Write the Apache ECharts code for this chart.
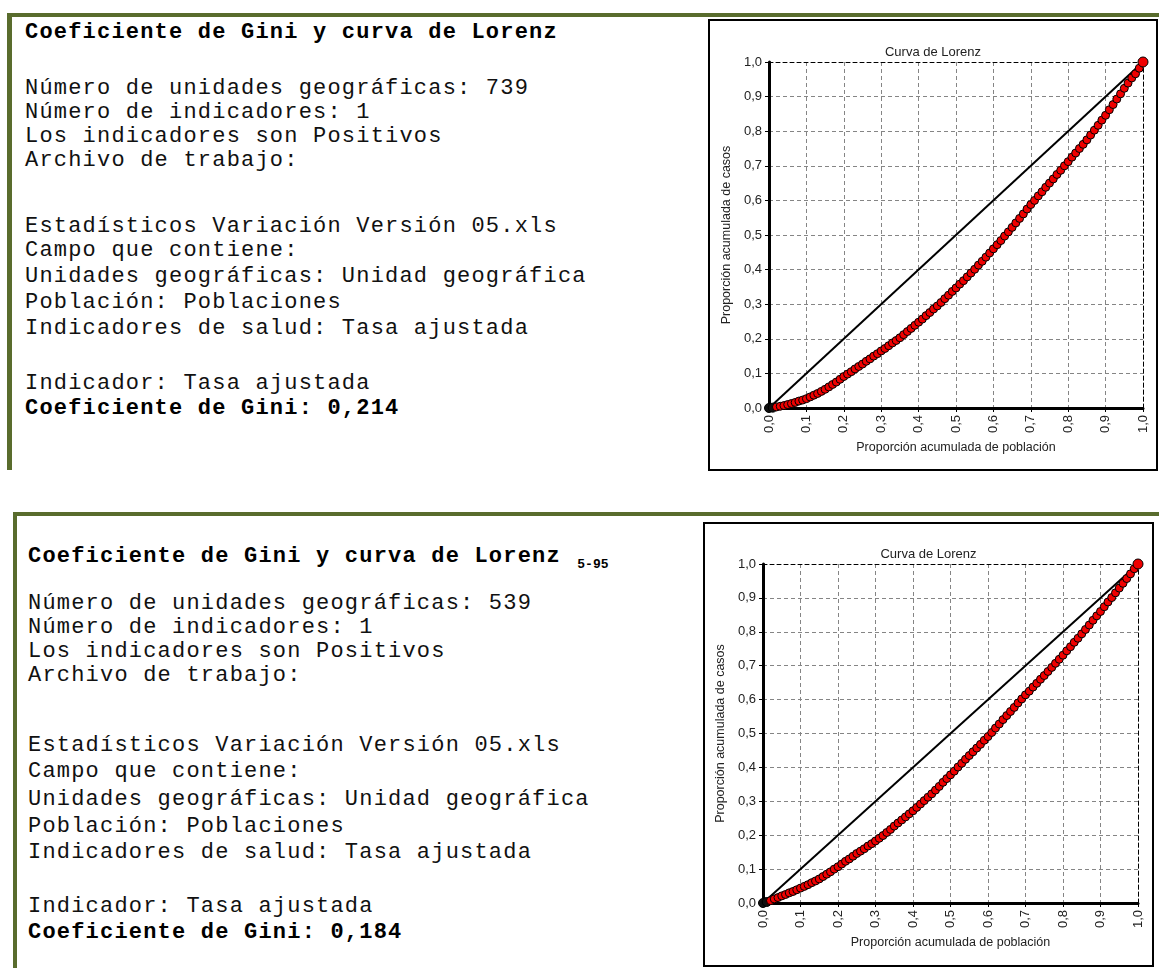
<!DOCTYPE html>
<html>
<head>
<meta charset="utf-8">
<script src="https://cdn.jsdelivr.net/npm/echarts@6/dist/echarts.min.js"></script>
<style>
  html, body { margin: 0; padding: 0; background: #fff; }
  body { width: 1159px; height: 968px; position: relative; overflow: hidden; }
  .bar { position: absolute; background: #596c2d; }
  .txt { position: absolute; font-family: 'Liberation Mono', 'Courier New', monospace; font-size: 22px;
         letter-spacing: 1.2px; line-height: 24px; color: #111; white-space: pre; }
  .b { font-weight: bold; color: #000; }
  .sub { font-size: 13px; letter-spacing: 0; position: relative; top: 6px; margin-left: 2px; }
  .box { position: absolute; border: 2px solid #000; box-sizing: border-box; }
  .chart { position: absolute; }
</style>
</head>
<body>
<script>
// Cumulative share of population (x) sampled along the Lorenz curve
const populationShare = [
  0.00,0.01,0.02,0.03,0.04,0.05,0.06,0.07,0.08,0.09,
  0.10,0.11,0.12,0.13,0.14,0.15,0.16,0.17,0.18,0.19,
  0.20,0.21,0.22,0.23,0.24,0.25,0.26,0.27,0.28,0.29,
  0.30,0.31,0.32,0.33,0.34,0.35,0.36,0.37,0.38,0.39,
  0.40,0.41,0.42,0.43,0.44,0.45,0.46,0.47,0.48,0.49,
  0.50,0.51,0.52,0.53,0.54,0.55,0.56,0.57,0.58,0.59,
  0.60,0.61,0.62,0.63,0.64,0.65,0.66,0.67,0.68,0.69,
  0.70,0.71,0.72,0.73,0.74,0.75,0.76,0.77,0.78,0.79,
  0.80,0.81,0.82,0.83,0.84,0.85,0.86,0.87,0.88,0.89,
  0.90,0.91,0.92,0.93,0.94,0.95,0.96,0.97,0.98,0.99,
  1.00
];

// Cumulative share of cases, all 739 geographic units (Gini 0,214)
const casesShareAll = [
  0.000,0.001,0.003,0.005,0.007,0.010,0.013,0.016,0.020,0.023,
  0.027,0.032,0.037,0.042,0.048,0.054,0.061,0.068,0.075,0.083,
  0.091,0.098,0.105,0.113,0.120,0.127,0.135,0.142,0.150,0.157,
  0.165,0.172,0.180,0.188,0.195,0.203,0.212,0.221,0.230,0.239,
  0.248,0.257,0.267,0.276,0.286,0.295,0.305,0.316,0.326,0.337,
  0.347,0.358,0.368,0.379,0.390,0.401,0.413,0.424,0.436,0.448,
  0.460,0.472,0.484,0.497,0.509,0.522,0.535,0.548,0.561,0.575,
  0.588,0.600,0.613,0.625,0.638,0.650,0.662,0.675,0.687,0.700,
  0.712,0.725,0.737,0.750,0.762,0.775,0.789,0.803,0.817,0.832,
  0.846,0.862,0.877,0.893,0.908,0.924,0.939,0.954,0.966,0.982,
  1.000
];

// Cumulative share of cases, 539 units between percentiles 5 and 95 (Gini 0,184)
const casesShareTrimmed = [
  0.000,0.003,0.007,0.012,0.016,0.021,0.025,0.030,0.034,0.039,
  0.044,0.049,0.054,0.060,0.065,0.071,0.078,0.085,0.092,0.100,
  0.107,0.115,0.123,0.130,0.138,0.146,0.153,0.160,0.168,0.175,
  0.183,0.191,0.199,0.208,0.217,0.227,0.236,0.245,0.254,0.263,
  0.272,0.282,0.292,0.302,0.312,0.322,0.333,0.344,0.356,0.367,
  0.378,0.389,0.401,0.412,0.424,0.435,0.446,0.457,0.468,0.480,
  0.491,0.503,0.516,0.528,0.541,0.553,0.565,0.577,0.590,0.602,
  0.614,0.625,0.637,0.648,0.660,0.671,0.683,0.695,0.707,0.719,
  0.731,0.744,0.756,0.769,0.781,0.794,0.807,0.820,0.834,0.847,
  0.860,0.874,0.888,0.901,0.915,0.929,0.943,0.957,0.971,0.986,
  1.000
];

// Line of perfect equality
const equalityLine = [[0, 0], [1, 1]];

// Axis tick labels (decimal comma)
const tickLabels = ['0,0','0,1','0,2','0,3','0,4','0,5','0,6','0,7','0,8','0,9','1,0'];
</script>

<!-- upper report panel -->
<div class="bar" style="left:7px; top:13px; width:1152px; height:4px;"></div>
<div class="bar" style="left:7px; top:13px; width:5px; height:457px;"></div>
<div class="txt b" style="left:25px; top:21px;">Coeficiente de Gini y curva de Lorenz</div>
<div class="txt" style="left:25px; top:77px;">Número de unidades geográficas: 739</div>
<div class="txt" style="left:25px; top:101px;">Número de indicadores: 1</div>
<div class="txt" style="left:25px; top:125px;">Los indicadores son Positivos</div>
<div class="txt" style="left:25px; top:149px;">Archivo de trabajo:</div>
<div class="txt" style="left:25px; top:215px;">Estadísticos Variación Versión 05.xls</div>
<div class="txt" style="left:25px; top:239px;">Campo que contiene:</div>
<div class="txt" style="left:25px; top:265px;">Unidades geográficas: Unidad geográfica</div>
<div class="txt" style="left:25px; top:291px;">Población: Poblaciones</div>
<div class="txt" style="left:25px; top:317px;">Indicadores de salud: Tasa ajustada</div>
<div class="txt" style="left:25px; top:372px;">Indicador: Tasa ajustada</div>
<div class="txt b" style="left:25px; top:397px;">Coeficiente de Gini: 0,214</div>
<div class="box" style="left:708px; top:19px; width:450px; height:452px;"></div>
<div id="chartAll" class="chart" style="left:710px; top:21px; width:446px; height:448px;"></div>

<!-- lower report panel -->
<div class="bar" style="left:13px; top:512px; width:1146px; height:4px;"></div>
<div class="bar" style="left:13px; top:512px; width:4px; height:456px;"></div>
<div class="txt b" style="left:28px; top:545px;">Coeficiente de Gini y curva de Lorenz <span class="sub">5-95</span></div>
<div class="txt" style="left:28px; top:592px;">Número de unidades geográficas: 539</div>
<div class="txt" style="left:28px; top:616px;">Número de indicadores: 1</div>
<div class="txt" style="left:28px; top:640px;">Los indicadores son Positivos</div>
<div class="txt" style="left:28px; top:664px;">Archivo de trabajo:</div>
<div class="txt" style="left:28px; top:734px;">Estadísticos Variación Versión 05.xls</div>
<div class="txt" style="left:28px; top:760px;">Campo que contiene:</div>
<div class="txt" style="left:28px; top:788px;">Unidades geográficas: Unidad geográfica</div>
<div class="txt" style="left:28px; top:815px;">Población: Poblaciones</div>
<div class="txt" style="left:28px; top:841px;">Indicadores de salud: Tasa ajustada</div>
<div class="txt" style="left:28px; top:895px;">Indicador: Tasa ajustada</div>
<div class="txt b" style="left:28px; top:921px;">Coeficiente de Gini: 0,184</div>
<div class="box" style="left:703px; top:522px; width:451px; height:445px;"></div>
<div id="chartTrimmed" class="chart" style="left:705px; top:524px; width:447px; height:441px;"></div>

<script>
const uiFont = "'Liberation Sans', Arial, sans-serif";
const labelColor = '#222';
const tickText = v => tickLabels[Math.round(v * 10)];
const gridDash = { color: '#858585', width: 1, type: [4, 3] };

function lorenzOption(gridBox, titleTop, cases) {
  const last = populationShare.length - 1;
  // origin points are drawn dark (dense overlap), end point slightly larger
  const curveData = populationShare.map((x, i) => {
    if (i === last) return { value: [x, cases[i]], symbolSize: 10 };
    if (i < 2) return { value: [x, cases[i]], symbolSize: 9, itemStyle: { color: '#111' } };
    return [x, cases[i]];
  });

  const nameStyle = { fontFamily: uiFont, fontSize: 12.5, color: labelColor };
  const labelStyle = { fontFamily: uiFont, fontSize: 13, color: labelColor, margin: 7, formatter: tickText };

  return {
    animation: false,
    title: {
      text: 'Curva de Lorenz', left: 'center', top: titleTop,
      textStyle: { fontFamily: uiFont, fontSize: 13, fontWeight: 'normal', color: labelColor }
    },
    grid: gridBox,
    xAxis: [
      {
        type: 'value', min: 0, max: 1, interval: 0.1, position: 'bottom',
        name: 'Proporción acumulada de población', nameLocation: 'middle', nameGap: 30,
        nameTextStyle: nameStyle,
        axisLine: { show: true, onZero: false, lineStyle: { color: '#000', width: 3 } },
        axisTick: { show: true, length: 4, lineStyle: { color: '#000', width: 1 } },
        axisLabel: Object.assign({ rotate: 90 }, labelStyle),
        splitLine: { show: true, lineStyle: gridDash }
      },
      {
        type: 'value', min: 0, max: 1, position: 'top',
        axisLine: { show: true, onZero: false, lineStyle: { color: '#000', width: 1, type: [4, 3] } },
        axisTick: { show: false }, axisLabel: { show: false }, splitLine: { show: false }
      }
    ],
    yAxis: [
      {
        type: 'value', min: 0, max: 1, interval: 0.1, position: 'left',
        name: 'Proporción acumulada de casos', nameLocation: 'middle', nameGap: 31,
        nameTextStyle: nameStyle,
        axisLine: { show: true, onZero: false, lineStyle: { color: '#000', width: 3 } },
        axisTick: { show: true, length: 4, lineStyle: { color: '#000', width: 1 } },
        axisLabel: labelStyle,
        splitLine: { show: true, lineStyle: gridDash }
      },
      {
        type: 'value', min: 0, max: 1, position: 'right',
        axisLine: { show: true, onZero: false, lineStyle: { color: '#000', width: 1, type: [4, 3] } },
        axisTick: { show: false }, axisLabel: { show: false }, splitLine: { show: false }
      }
    ],
    series: [
      {
        type: 'line', data: equalityLine, symbol: 'none', z: 3,
        lineStyle: { color: '#000', width: 2 }
      },
      {
        type: 'line', data: curveData, z: 4,
        symbol: 'circle', symbolSize: 8, showAllSymbol: true,
        lineStyle: { color: '#000', width: 3 },
        itemStyle: { color: '#f00000', borderColor: '#000', borderWidth: 1 }
      }
    ]
  };
}

echarts.init(document.getElementById('chartAll'), null, { renderer: 'canvas' })
  .setOption(lorenzOption({ left: 59, top: 41, width: 374, height: 346 }, 20, casesShareAll));

echarts.init(document.getElementById('chartTrimmed'), null, { renderer: 'canvas' })
  .setOption(lorenzOption({ left: 58, top: 40, width: 375, height: 339 }, 19, casesShareTrimmed));
</script>
</body>
</html>
